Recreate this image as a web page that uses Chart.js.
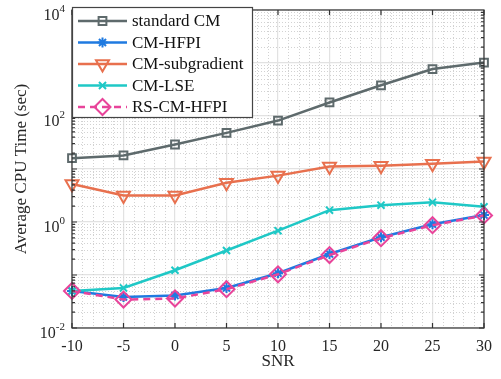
<!DOCTYPE html>
<html>
<head>
<meta charset="utf-8">
<script src="https://cdn.jsdelivr.net/npm/chart.js@4.4.0/dist/chart.umd.min.js"></script>
<style>
html, body { margin: 0; padding: 0; background: #fff; }
#wrap { width: 501px; height: 379px; }
</style>
</head>
<body>
<div id="wrap"><canvas id="grafico" width="501" height="379"></canvas></div>
<script>
// Dados
const snr = [-10, -5, 0, 5, 10, 15, 20, 25, 30];
const standardCM = [16, 18, 29, 48, 82, 180, 380, 770, 1020];
const cmHFPI = [0.050, 0.0385, 0.041, 0.057, 0.108, 0.249, 0.516, 0.906, 1.35];
const cmSubgradient = [5.2, 3.16, 3.16, 5.5, 7.5, 11.1, 11.5, 12.5, 13.8];
const cmLSE = [0.050, 0.057, 0.123, 0.29, 0.687, 1.67, 2.08, 2.37, 1.93];
const rsCMHFPI = [0.050, 0.0344, 0.036, 0.054, 0.103, 0.238, 0.495, 0.87, 1.33];
const xTicks = [-10, -5, 0, 5, 10, 15, 20, 25, 30];
const yDecades = [-2, -1, 0, 1, 2, 3, 4];
const yLabelDecades = [-2, 0, 2, 4];

const fonte = 'Liberation Serif, Times New Roman, serif';
const corEixo = '#333333';

function pares(valores) {
    return snr.map((x, i) => ({ x: x, y: valores[i] }));
}

function serie(label, valores, cor, estilo, raio, extra) {
    return Object.assign({
        label: label,
        data: pares(valores),
        borderColor: cor,
        backgroundColor: cor,
        borderWidth: 2.5,
        pointStyle: estilo,
        pointRadius: raio,
        pointBorderWidth: 2,
        pointBorderColor: cor,
        pointBackgroundColor: 'rgba(0,0,0,0)',
        tension: 0,
        clip: false
    }, extra || {});
}

// Grade secundária, ticks internos, moldura e rótulos 10^n
const moldura = {
    id: 'moldura',
    beforeDatasetsDraw(chart) {
        const { ctx, chartArea: a, scales: { x, y } } = chart;
        ctx.save();
        ctx.strokeStyle = '#d2d2d2';
        ctx.lineWidth = 1;
        ctx.setLineDash([1, 2]);
        for (let v = -10; v <= 30; v++) {
            if (v % 5 === 0) continue;
            const px = Math.round(x.getPixelForValue(v)) + 0.5;
            ctx.beginPath(); ctx.moveTo(px, a.top); ctx.lineTo(px, a.bottom); ctx.stroke();
        }
        for (let e = -2; e < 4; e++) {
            for (let m = 2; m <= 9; m++) {
                const py = Math.round(y.getPixelForValue(m * Math.pow(10, e))) + 0.5;
                ctx.beginPath(); ctx.moveTo(a.left, py); ctx.lineTo(a.right, py); ctx.stroke();
            }
        }
        ctx.restore();
    },
    afterDatasetsDraw(chart) {
        const { ctx, chartArea: a, scales: { x, y } } = chart;
        ctx.save();
        ctx.strokeStyle = corEixo;
        ctx.lineWidth = 1.2;
        ctx.beginPath();
        xTicks.forEach(v => {
            const px = x.getPixelForValue(v);
            ctx.moveTo(px, a.bottom); ctx.lineTo(px, a.bottom - 5);
            ctx.moveTo(px, a.top); ctx.lineTo(px, a.top + 5);
        });
        for (let e = -2; e < 4; e++) {
            for (let m = 1; m <= 9; m++) {
                const py = y.getPixelForValue(m * Math.pow(10, e));
                const t = m === 1 ? 5 : 3;
                ctx.moveTo(a.left, py); ctx.lineTo(a.left + t, py);
                ctx.moveTo(a.right, py); ctx.lineTo(a.right - t, py);
            }
        }
        ctx.stroke();
        ctx.strokeRect(a.left, a.top, a.right - a.left, a.bottom - a.top);

        // rótulos do eixo y com expoente
        ctx.fillStyle = '#262626';
        ctx.textAlign = 'right';
        ctx.textBaseline = 'alphabetic';
        yLabelDecades.forEach(e => {
            const py = y.getPixelForValue(Math.pow(10, e));
            const exp = e < 0 ? '-' + Math.abs(e) : String(e);
            ctx.font = '11px ' + fonte;
            const w = ctx.measureText(exp).width;
            ctx.fillText(exp, 65, py + 1.5);
            ctx.font = '16px ' + fonte;
            ctx.fillText('10', 65 - w, py + 9.5);
        });
        ctx.restore();
    }
};

// Legenda desenhada dentro da área do gráfico
const legenda = {
    id: 'legenda',
    afterDraw(chart) {
        const ctx = chart.ctx;
        ctx.save();
        ctx.fillStyle = '#ffffff';
        ctx.fillRect(72, 7, 180, 110);
        ctx.strokeStyle = '#444444';
        ctx.lineWidth = 1.2;
        ctx.strokeRect(72.5, 7.5, 180, 110);
        ctx.font = '17px ' + fonte;
        ctx.textBaseline = 'middle';
        ctx.textAlign = 'left';
        chart.data.datasets.forEach((ds, i) => {
            const ly = 21 + i * 21.5;
            ctx.strokeStyle = ds.borderColor;
            ctx.lineWidth = ds.borderWidth;
            ctx.setLineDash(ds.borderDash || []);
            ctx.beginPath(); ctx.moveTo(78, ly); ctx.lineTo(127, ly); ctx.stroke();
            ctx.setLineDash([]);
            ctx.fillStyle = 'rgba(0,0,0,0)';
            ctx.lineWidth = ds.pointBorderWidth;
            Chart.helpers.drawPoint(ctx, {
                pointStyle: ds.pointStyle,
                radius: ds.pointRadius,
                rotation: ds.pointRotation || 0,
                borderWidth: ds.pointBorderWidth
            }, 102.5, ly);
            ctx.fillStyle = '#111111';
            ctx.fillText(ds.label, 132, ly + 1);
        });
        ctx.restore();
    }
};

new Chart(document.getElementById('grafico'), {
    type: 'line',
    data: {
        datasets: [
            serie('standard CM', standardCM, '#5e6a6c', 'rect', 5.5, { order: 5 }),
            serie('CM-HFPI', cmHFPI, '#1f7ae0', 'star', 5, { order: 4 }),
            serie('CM-subgradient', cmSubgradient, '#e8704e', 'triangle', 7.5, { order: 3, pointRotation: 180 }),
            serie('CM-LSE', cmLSE, '#1fc8c6', 'crossRot', 5, { order: 2 }),
            serie('RS-CM-HFPI', rsCMHFPI, '#e8449a', 'rectRot', 8, { order: 1, borderDash: [7, 5] })
        ]
    },
    options: {
        responsive: false,
        animation: false,
        layout: { padding: { left: 0, right: 15, top: 6, bottom: 0 } },
        plugins: {
            legend: { display: false },
            tooltip: { enabled: false }
        },
        scales: {
            x: {
                type: 'linear',
                min: -10,
                max: 30,
                afterBuildTicks: scale => { scale.ticks = xTicks.map(v => ({ value: v })); },
                afterFit: scale => { scale.height = 51; },
                ticks: {
                    font: { family: fonte, size: 16 },
                    color: '#262626',
                    padding: 9,
                    maxRotation: 0
                },
                grid: { color: '#e2e2e2', lineWidth: 1.2, drawTicks: false },
                border: { display: false },
                title: {
                    display: true,
                    text: 'SNR',
                    font: { family: fonte, size: 17 },
                    color: '#262626',
                    padding: { top: 0, bottom: 7 }
                }
            },
            y: {
                type: 'logarithmic',
                min: 0.01,
                max: 10000,
                afterBuildTicks: scale => { scale.ticks = yDecades.map(e => ({ value: Math.pow(10, e) })); },
                afterFit: scale => { scale.width = 72; },
                ticks: { display: false },
                grid: { color: '#e2e2e2', lineWidth: 1.2, drawTicks: false },
                border: { display: false },
                title: {
                    display: true,
                    text: 'Average CPU Time (sec)',
                    font: { family: fonte, size: 17 },
                    color: '#262626',
                    padding: { top: 11, bottom: 0 }
                }
            }
        }
    },
    plugins: [moldura, legenda]
});
</script>
</body>
</html>
